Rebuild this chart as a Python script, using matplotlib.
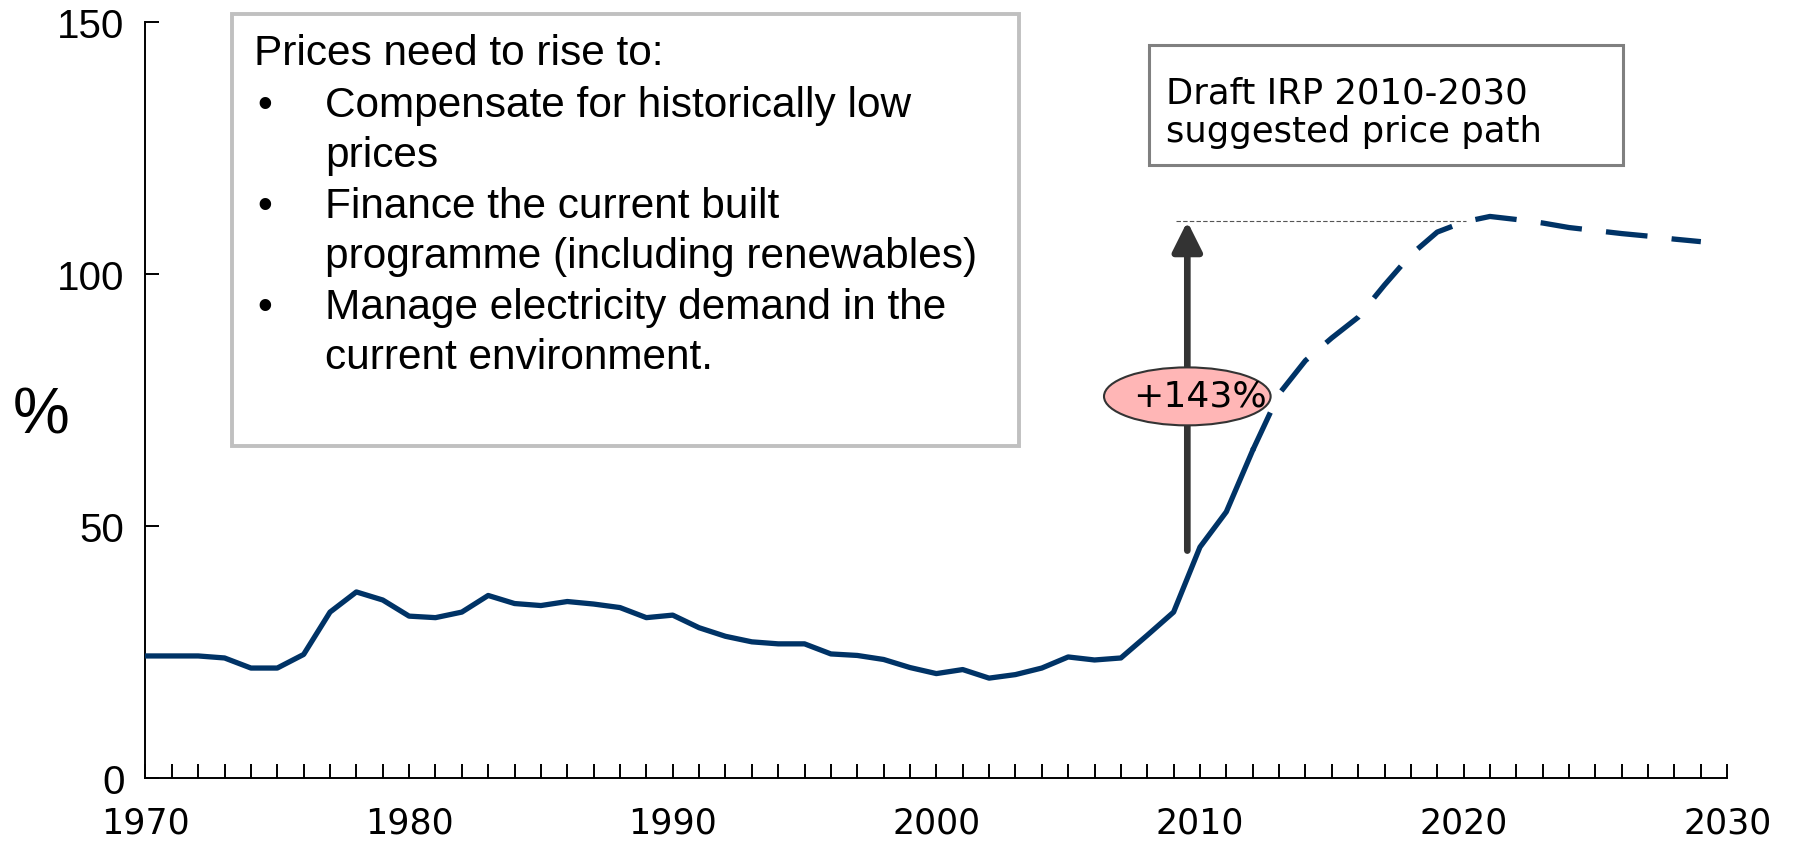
import matplotlib

matplotlib.use("Agg")
import matplotlib.pyplot as plt
import numpy as np
from matplotlib.patches import Ellipse, Rectangle
from matplotlib.ticker import FixedLocator, MultipleLocator

# historical tariff path (%)
hist_years = np.arange(1970, 2013)
hist_values = [
    24.2, 24.2, 24.2, 23.8, 21.8, 21.8, 24.5, 32.9, 36.9, 35.3,
    32.1, 31.8, 32.9, 36.2, 34.6, 34.2, 35.0, 34.5, 33.8, 31.8,
    32.3, 29.8, 28.1, 27.0, 26.6, 26.6, 24.6, 24.3, 23.5, 21.9,
    20.7, 21.5, 19.8, 20.5, 21.8, 24.0, 23.4, 23.8, 28.3, 32.9,
    45.8, 52.8, 65.0,
]

# draft IRP suggested path
proj_years = np.arange(2012, 2030)
proj_values = [
    65.0, 76.2, 82.8, 87.3, 91.4, 97.8, 103.8, 108.3, 110.3, 111.4,
    110.8, 110.1, 109.2, 108.6, 108.0, 107.5, 106.9, 106.4,
]

y_ticks = [0, 50, 100, 150]
x_tick_labels = ["1970", "1980", "1990", "2000", "2010", "2020", "2030"]

bullet_title = "Prices need to rise to:"
bullet_lines = [
    ("\u2022", "Compensate for historically low"),
    ("", "prices"),
    ("\u2022", "Finance the current built"),
    ("", "programme (including renewables)"),
    ("\u2022", "Manage electricity demand in the"),
    ("", "current environment."),
]
irp_text = ["Draft IRP 2010-2030", "suggested price path"]
rise_label = "+143%"
rise_from, rise_to, rise_year = 45.1, 110.4, 2009.52

LINE_COLOR = "#003366"
ARIAL = "Liberation Sans"
TAHOMA = "DejaVu Sans"

fig = plt.figure(figsize=(17.96, 8.45), dpi=100)
ax = fig.add_axes([0.081, 0.0782, 0.8807, 0.8947])

ax.plot(hist_years, hist_values, color=LINE_COLOR, lw=3.8, zorder=5)
proj_line, = ax.plot(proj_years, proj_values, color=LINE_COLOR, lw=3.8, zorder=5)
proj_line.set_dashes((7.9, 4.6))

ax.set_xlim(1970, 2030)
ax.set_ylim(0, 150)
for side in ("top", "right"):
    ax.spines[side].set_visible(False)
for side in ("left", "bottom"):
    ax.spines[side].set_linewidth(1.4)

ax.yaxis.set_major_locator(FixedLocator(y_ticks))
ax.set_yticklabels([str(v) for v in y_ticks], fontsize=29, family=ARIAL)
ax.xaxis.set_major_locator(FixedLocator([int(s) for s in x_tick_labels]))
ax.set_xticklabels(x_tick_labels, fontsize=25, family=TAHOMA)
ax.xaxis.set_minor_locator(MultipleLocator(1))
ax.tick_params(axis="y", direction="in", length=10, width=1.4, pad=15)
ax.tick_params(axis="x", which="both", direction="in", length=10, width=1.4, pad=20)

ax.text(-0.066, 0.479, "%", transform=ax.transAxes, ha="center", va="center",
        fontsize=46, family=ARIAL)

# left text box
ax.add_patch(Rectangle((0.055, 0.439), 0.4975, 0.5716, transform=ax.transAxes,
                       facecolor="white", edgecolor="#C0C0C0", lw=2.8, clip_on=False, zorder=3))
baselines = [0.944, 0.876, 0.809, 0.742, 0.676, 0.609, 0.542]
ax.text(0.0688, baselines[0], bullet_title, transform=ax.transAxes, va="baseline",
        fontsize=30.5, family=ARIAL, zorder=4)
for (bullet, line), yb in zip(bullet_lines, baselines[1:]):
    if bullet:
        ax.text(0.0753, yb, bullet, transform=ax.transAxes, va="baseline", ha="center",
                fontsize=30.5, family=ARIAL, zorder=4)
    ax.text(0.1137, yb, line, transform=ax.transAxes, va="baseline",
            fontsize=30.5, family=ARIAL, zorder=4)

# IRP box
ax.add_patch(Rectangle((0.6343, 0.8106), 0.2998, 0.1591, transform=ax.transAxes,
                       facecolor="white", edgecolor="#808080", lw=2.2, zorder=3))
ax.text(0.645, 0.894, irp_text[0], transform=ax.transAxes, va="baseline",
        fontsize=25.5, family=TAHOMA, zorder=4)
ax.text(0.645, 0.842, irp_text[1], transform=ax.transAxes, va="baseline",
        fontsize=25.5, family=TAHOMA, zorder=4)

# rise arrow, reference line and label
ax.plot([2009.1, 2020.1], [rise_to, rise_to], color="#555555", lw=0.8,
        linestyle=(0, (4, 2)), zorder=2)
ax.annotate("", xy=(rise_year, rise_to), xytext=(rise_year, rise_from),
            arrowprops=dict(arrowstyle="-|>,head_length=0.6,head_width=0.3",
                            mutation_scale=30, lw=4.8, color="#333333",
                            shrinkA=0, shrinkB=0), zorder=3)
ax.add_patch(Ellipse((rise_year, 75.7), 6.32, 11.5, facecolor="#FFB6B6",
                     edgecolor="#333333", lw=1.5, zorder=4))
ax.text(2010.0, 75.8, rise_label, ha="center", va="center", fontsize=26,
        family=TAHOMA, zorder=6)

fig.savefig("out.png", dpi=100)
